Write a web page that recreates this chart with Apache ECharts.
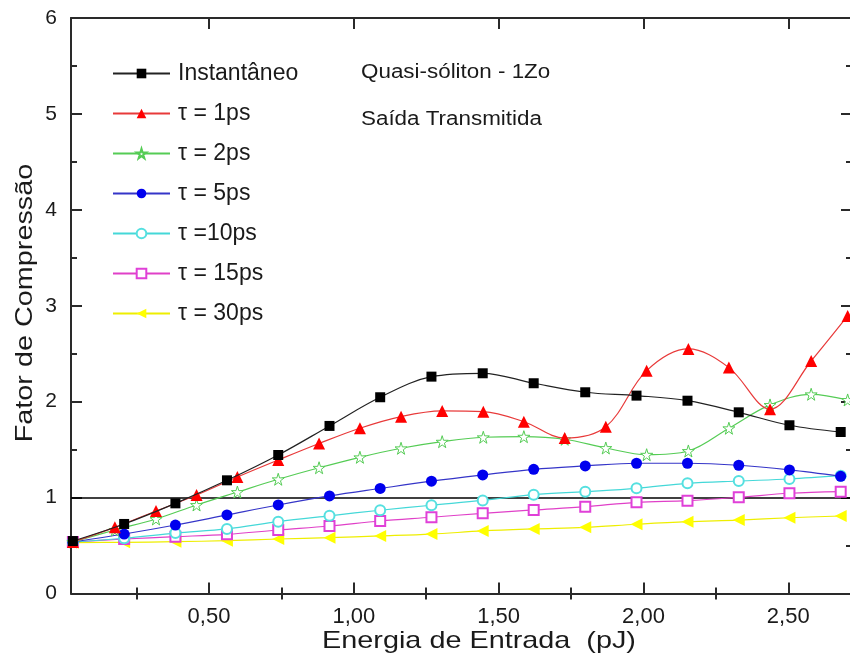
<!DOCTYPE html>
<html>
<head>
<meta charset="utf-8">
<script src="https://cdn.jsdelivr.net/npm/echarts@6/dist/echarts.min.js"></script>
<style>html,body{margin:0;padding:0;background:#fff}#c{width:850px;height:664px}</style>
</head>
<body>
<div id="c"></div>
<script>
// Energy grids (pJ)
const energyA = [0.03, 0.207, 0.384, 0.562, 0.739, 0.916, 1.091, 1.268, 1.445, 1.621, 1.799, 1.976, 2.152, 2.329, 2.504, 2.681];
const energyB = [0.03, 0.175, 0.317, 0.457, 0.598, 0.739, 0.880, 1.021, 1.163, 1.305, 1.447, 1.587, 1.728, 1.870, 2.011, 2.155, 2.295, 2.437, 2.579, 2.705];

// Compression factor values
const instantaneo = [0.547, 0.725, 0.940, 1.180, 1.444, 1.747, 2.046, 2.261, 2.296, 2.192, 2.098, 2.063, 2.010, 1.889, 1.754, 1.684];
const tau1  = [0.537, 0.690, 0.860, 1.027, 1.215, 1.392, 1.564, 1.723, 1.844, 1.903, 1.896, 1.791, 1.621, 1.739, 2.323, 2.550, 2.355, 1.921, 2.424, 2.894];
const tau2  = [0.537, 0.662, 0.777, 0.923, 1.058, 1.191, 1.311, 1.420, 1.514, 1.583, 1.629, 1.635, 1.608, 1.517, 1.447, 1.486, 1.723, 1.966, 2.077, 2.018];
const tau5  = [0.537, 0.620, 0.714, 0.819, 0.923, 1.017, 1.095, 1.171, 1.236, 1.295, 1.330, 1.358, 1.358, 1.337, 1.288, 1.222];
const tau10 = [0.537, 0.576, 0.630, 0.673, 0.749, 0.810, 0.868, 0.920, 0.970, 1.030, 1.062, 1.097, 1.149, 1.173, 1.194, 1.228];
const tau15 = [0.537, 0.568, 0.592, 0.617, 0.662, 0.704, 0.756, 0.795, 0.836, 0.871, 0.905, 0.951, 0.968, 1.003, 1.045, 1.062];
const tau30 = [0.530, 0.534, 0.540, 0.551, 0.568, 0.582, 0.600, 0.620, 0.652, 0.673, 0.690, 0.722, 0.749, 0.766, 0.790, 0.808];

const seriesNames = ['Instantâneo', 'τ = 1ps', 'τ = 2ps', 'τ = 5ps', 'τ =10ps', 'τ = 15ps', 'τ = 30ps'];
const majorTicks = [0.5, 1.0, 1.5, 2.0, 2.5];
const minorTicks = [0.25, 0.75, 1.25, 1.75, 2.25];
const yTicks = [0, 1, 2, 3, 4, 5, 6];
const xTitle = 'Energia de Entrada  (pJ)';
const yTitle = 'Fator de Compressão';
const notes = ['Quasi-sóliton - 1Zo', 'Saída Transmitida'];

const pair = (xs, ys) => xs.map((x, i) => [x, ys[i]]);
const STAR = 'path://M50,0 L61,35 L98,35 L68,57 L79,91 L50,70 L21,91 L32,57 L2,35 L39,35 Z';
const LEFTTRI = 'path://M0,50 L100,0 L100,100 Z';
const XMIN = 0.0235, XMAX = 2.72;
const FONT = 'Liberation Sans, Arial, sans-serif';
const AX = '#2a2a2a';
const TXT = '#1a1a1a';

function mk(name, xs, ys, opts) {
  return Object.assign({
    name: name, type: 'line', data: pair(xs, ys), smooth: 0.35,
    xAxisIndex: 0, yAxisIndex: 0, animation: false, clip: true
  }, opts);
}

const series = [
  mk(seriesNames[0], energyA, instantaneo, {
    symbol: 'rect', symbolSize: 10, z: 10,
    itemStyle: { color: '#000' }, lineStyle: { color: '#222', width: 1.2 },
    markLine: { silent: true, symbol: 'none', label: { show: false },
      lineStyle: { color: '#000', width: 1.6, type: 'solid' }, data: [{ yAxis: 1 }] }
  }),
  mk(seriesNames[1], energyB, tau1, {
    symbol: 'triangle', symbolSize: 12, z: 9,
    itemStyle: { color: '#ff0000' }, lineStyle: { color: '#e83a3a', width: 1.2 }
  }),
  mk(seriesNames[2], energyB, tau2, {
    symbol: STAR, symbolSize: 12, z: 8,
    itemStyle: { color: '#ffffff', borderColor: '#55cc55', borderWidth: 1 },
    lineStyle: { color: '#55cc55', width: 1.2 }
  }),
  mk(seriesNames[3], energyA, tau5, {
    symbol: 'circle', symbolSize: 11, z: 7,
    itemStyle: { color: '#0000ee' }, lineStyle: { color: '#3535c8', width: 1.2 }
  }),
  mk(seriesNames[4], energyA, tau10, {
    symbol: 'emptyCircle', symbolSize: 10, z: 6,
    itemStyle: { color: '#55e0e0', borderWidth: 1 }, lineStyle: { color: '#44d8d8', width: 1.2 }
  }),
  mk(seriesNames[5], energyA, tau15, {
    symbol: 'emptyRect', symbolSize: 10, z: 5,
    itemStyle: { color: '#e040d8', borderWidth: 1 }, lineStyle: { color: '#e040c8', width: 1.2 }
  }),
  mk(seriesNames[6], energyA, tau30, {
    symbol: LEFTTRI, symbolSize: 12, z: 4,
    itemStyle: { color: '#ffff00' }, lineStyle: { color: '#eeee00', width: 1.2 }
  })
];

const baseX = {
  type: 'value', min: XMIN, max: XMAX, splitLine: { show: false },
  axisLine: { show: false }, axisLabel: { show: false }
};

const option = {
  animation: false,
  backgroundColor: '#fff',
  grid: { left: 71, top: 18, width: 781, bottom: 70.5, containLabel: false, outerBoundsMode: 'none' },
  legend: {
    orient: 'vertical', left: 107, top: 57, itemWidth: 57, itemHeight: 12, itemGap: 17,
    data: seriesNames, selectedMode: false,
    textStyle: { fontFamily: FONT, fontSize: 23, color: TXT, lineHeight: 23, padding: [0, 0, 0, 3] }
  },
  xAxis: [
    Object.assign({}, baseX, {
      position: 'bottom',
      axisLine: { show: true, onZero: false, lineStyle: { color: AX, width: 2 } },
      axisTick: { show: true, inside: true, length: 11, customValues: majorTicks, lineStyle: { color: AX, width: 2 } },
      axisLabel: { show: true, customValues: majorTicks, margin: 12, fontFamily: FONT, fontSize: 22, color: TXT,
        formatter: v => v.toFixed(2).replace('.', ',') }
    }),
    Object.assign({}, baseX, {
      position: 'bottom',
      axisTick: { show: true, inside: true, length: 6, customValues: minorTicks, lineStyle: { color: AX, width: 2 } }
    }),
    Object.assign({}, baseX, {
      position: 'top',
      axisLine: { show: true, onZero: false, lineStyle: { color: AX, width: 2 } },
      axisTick: { show: true, inside: true, length: 11, customValues: majorTicks, lineStyle: { color: AX, width: 2 } }
    }),
    Object.assign({}, baseX, {
      position: 'top',
      axisTick: { show: true, inside: true, length: 6, customValues: minorTicks, lineStyle: { color: AX, width: 2 } }
    })
  ],
  yAxis: [
    {
      type: 'value', min: 0, max: 6, interval: 1, position: 'left',
      splitLine: { show: false },
      axisLine: { show: true, onZero: false, lineStyle: { color: AX, width: 2 } },
      axisTick: { show: true, inside: true, length: 11, lineStyle: { color: AX, width: 2 } },
      minorTick: { show: true, splitNumber: 2, length: 6, lineStyle: { color: AX, width: 2 } },
      axisLabel: { margin: 14, fontFamily: FONT, fontSize: 21, color: TXT, customValues: yTicks }
    },
    {
      type: 'value', min: 0, max: 6, interval: 1, position: 'right',
      splitLine: { show: false },
      axisLine: { show: true, onZero: false, lineStyle: { color: AX, width: 2 } },
      axisTick: { show: true, inside: true, length: 11, lineStyle: { color: AX, width: 2 } },
      minorTick: { show: true, splitNumber: 2, length: 6, lineStyle: { color: AX, width: 2 } },
      axisLabel: { show: false }
    }
  ],
  graphic: [
    { type: 'text', x: 361, y: 72, scaleX: 1.12, style: { text: notes[0], font: '20px ' + FONT, fill: TXT, verticalAlign: 'middle' } },
    { type: 'text', x: 361, y: 119, scaleX: 1.12, style: { text: notes[1], font: '20px ' + FONT, fill: TXT, verticalAlign: 'middle' } },
    { type: 'text', x: 479, y: 641, scaleX: 1.2, style: { text: xTitle, font: '24px ' + FONT, fill: TXT,
      align: 'center', verticalAlign: 'middle' } },
    { type: 'text', x: 25, y: 303, rotation: Math.PI / 2, scaleX: 1.2, style: { text: yTitle, font: '24px ' + FONT, fill: TXT,
      align: 'center', verticalAlign: 'middle' } }
  ],
  series: series
};

const chart = echarts.init(document.getElementById('c'), null, { renderer: 'canvas' });
chart.setOption(option);
</script>
</body>
</html>
